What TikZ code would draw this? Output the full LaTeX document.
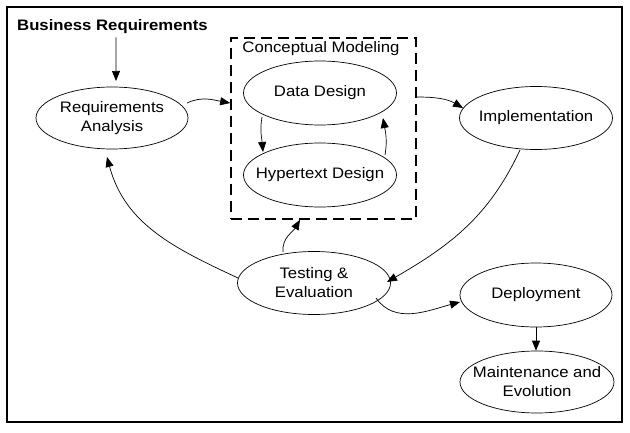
\documentclass[tikz,border=0pt]{standalone}
\usepackage{fontspec}
\setmainfont{Liberation Sans}[FakeStretch=1.1]
\usetikzlibrary{shapes.geometric,arrows.meta}
\begin{document}
\begin{tikzpicture}[x=1pt,y=1pt,
  txt/.style={font=\fontsize{15.2}{19}\selectfont,align=center,inner sep=0pt},
  ell/.style={ellipse,draw,line width=0.7pt,inner sep=0pt,
    label={[txt]center:#1}},
  conn/.style={line width=0.7pt,-{Triangle[length=10pt,width=8pt]}},
  cmbox/.style={draw,line width=1.6pt,dash pattern=on 11pt off 6pt,inner sep=0pt},
]
\useasboundingbox (0,0) rectangle (630,432);
\node[draw,line width=1.2pt,minimum width=615,minimum height=415,inner sep=0pt] (frame) at (314.5,217.5) {};

\node[txt,font=\fontsize{15.2}{19}\selectfont\bfseries,anchor=west] (br) at (17,405) {Business Requirements};

\node[cmbox,minimum width=185,minimum height=181] (box) at (323.5,303.5) {};
\node[txt] (cm) at (321,383) {Conceptual Modeling};

\node[ell={Requirements\\Analysis},minimum width=152,minimum height=62] (ra) at (112,314) {};
\node[ell={Data Design},minimum width=153,minimum height=64] (dd) at (320,339) {};
\node[ell={Hypertext Design},minimum width=153,minimum height=64] (hd) at (320,257) {};
\node[ell={Implementation},minimum width=153,minimum height=63] (impl) at (536,314) {};
\node[ell={Testing \&\\Evaluation},minimum width=153,minimum height=63] (test) at (314,149) {};
\node[ell={Deployment},minimum width=152,minimum height=64] (dep) at (536,137) {};
\node[ell={Maintenance and\\Evolution},minimum width=154,minimum height=62] (maint) at (537,50) {};

\draw[conn,shorten <=3pt] ([xshift=3.5pt]br.south) -- ([shift={(4,37)}]ra.center);
\draw[conn] ([shift={(75,15)}]ra.center) to[out=25,in=170] ([yshift=25.5pt]box.west);
\draw[conn] ([yshift=31.5pt]box.east) to[out=0,in=150] ([shift={(-73,10)}]impl.center);
\draw[conn] ([shift={(-58,-24)}]dd.center) to[out=260,in=95] ([shift={(-57,23)}]hd.center);
\draw[conn] ([shift={(65,20)}]hd.center) to[out=80,in=-80] ([shift={(63,-25)}]dd.center);
\draw[conn] ([shift={(-16,-32)}]impl.center) to[out=-115,in=30] ([shift={(73,1)}]test.center);
\draw[conn] ([shift={(62,-15)}]test.center) to[out=-55,in=195] ([shift={(-76,-7)}]dep.center);
\draw[conn] (dep.south) -- (dep.south |- maint.north);
\draw[conn] ([shift={(-31,31)}]test.center) to[out=95,in=240] ([xshift=-23.5pt]box.south);
\draw[conn] ([shift={(-76,5)}]test.center) to[out=155,in=-75] ([shift={(-5,-39)}]ra.center);
\end{tikzpicture}
\end{document}
